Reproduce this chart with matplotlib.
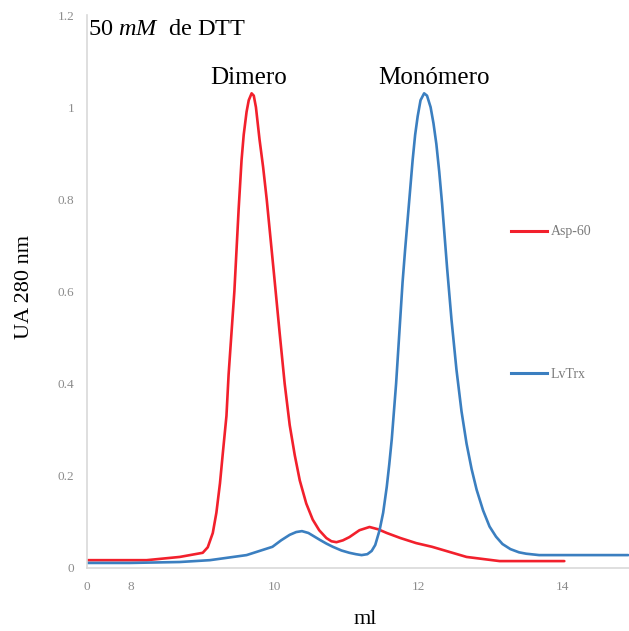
import matplotlib
matplotlib.use("Agg")
import matplotlib.pyplot as plt
from matplotlib.lines import Line2D

plt.rcParams["mathtext.fontset"] = "custom"
plt.rcParams["mathtext.rm"] = "Liberation Serif"
plt.rcParams["mathtext.it"] = "Liberation Serif:italic"

# elution volume (ml) / absorbance
asp_x = [7.36, 8.22, 8.68, 9.0, 9.07, 9.14, 9.19, 9.24, 9.28, 9.33, 9.36, 9.40, 9.44,
         9.47, 9.50, 9.54, 9.57, 9.61, 9.64, 9.68, 9.71, 9.74, 9.765, 9.79, 9.84, 9.89,
         9.94, 9.99, 10.03, 10.07, 10.14, 10.21, 10.28, 10.35, 10.44, 10.53, 10.62,
         10.72, 10.79, 10.86, 10.95, 11.04, 11.18, 11.32, 11.44, 11.56, 11.75, 11.97,
         12.19, 12.67, 13.13, 14.03]
asp_y = [0.017, 0.017, 0.024, 0.033, 0.045, 0.076, 0.12, 0.184, 0.25, 0.33, 0.42, 0.51, 0.60,
         0.69, 0.78, 0.885, 0.94, 0.99, 1.015, 1.03, 1.025, 1.0, 0.965, 0.93, 0.87, 0.80,
         0.72, 0.64, 0.575, 0.51, 0.40, 0.31, 0.245, 0.19, 0.14, 0.105, 0.082,
         0.065, 0.058, 0.056, 0.06, 0.067, 0.082, 0.089, 0.084, 0.076, 0.065, 0.054,
         0.046, 0.024, 0.015, 0.015]

trx_x = [7.36, 7.99, 8.68, 9.10, 9.61, 9.97, 10.09, 10.21, 10.30, 10.38, 10.47, 10.63,
         10.72, 10.81, 10.93, 11.04, 11.13, 11.21, 11.29, 11.35, 11.40, 11.46, 11.51,
         11.56, 11.595, 11.63, 11.66, 11.69, 11.735, 11.78, 11.815, 11.85, 11.885, 11.92,
         11.955, 11.99, 12.03, 12.08, 12.12, 12.17, 12.21, 12.25, 12.29, 12.33, 12.365,
         12.40, 12.46, 12.53, 12.60, 12.67, 12.74, 12.81, 12.90, 12.99, 13.08, 13.17,
         13.28, 13.40, 13.5, 13.68, 14.51, 14.92]
trx_y = [0.011, 0.011, 0.013, 0.017, 0.028, 0.046, 0.06, 0.072, 0.078, 0.080, 0.076, 0.061,
         0.053, 0.046, 0.038, 0.033, 0.030, 0.028, 0.030, 0.037, 0.05, 0.082, 0.12,
         0.176, 0.225, 0.28, 0.34, 0.40, 0.51, 0.62, 0.69, 0.755, 0.82, 0.885,
         0.94, 0.98, 1.015, 1.03, 1.025, 1.0, 0.965, 0.92, 0.86, 0.79, 0.72,
         0.65, 0.54, 0.43, 0.34, 0.27, 0.215, 0.17, 0.125, 0.09, 0.068, 0.052,
         0.041, 0.034, 0.031, 0.028, 0.028, 0.028]

xticks = [7.39, 8, 10, 12, 14]
xticklabels = ["0", "8", "10", "12", "14"]
yticks = [0, 0.2, 0.4, 0.6, 0.8, 1.0, 1.2]
yticklabels = ["0", "0.2", "0.4", "0.6", "0.8", "1", "1.2"]

red = "#f2202c"
blue = "#3b7fc0"
grey = "#8c8c8c"
serif = "Liberation Serif"

fig = plt.figure(figsize=(6.29, 6.31), dpi=100)
ax = fig.add_axes([87 / 629, 63 / 631, 542 / 629, 553 / 631])

ax.plot(asp_x, asp_y, color=red, lw=1.9, solid_capstyle="round", solid_joinstyle="round")
ax.plot(trx_x, trx_y, color=blue, lw=1.9, solid_capstyle="round", solid_joinstyle="round")

ax.set_xlim(7.39, 14.93)
ax.set_ylim(0, 1.2)
ax.set_xticks(xticks)
ax.set_xticklabels(xticklabels)
ax.set_yticks(yticks)
ax.set_yticklabels(yticklabels)
ax.tick_params(length=0, labelsize=9.5, labelcolor=grey, pad=9)
for lbl in ax.get_xticklabels() + ax.get_yticklabels():
    lbl.set_family(serif)

for side in ("top", "right"):
    ax.spines[side].set_visible(False)
for side in ("left", "bottom"):
    ax.spines[side].set_color("#d9d9d9")
    ax.spines[side].set_linewidth(1.2)

ax.text(7.41, 1.168, "50 $\\mathit{mM}$  de DTT", family=serif, fontsize=17.5,
        va="center", ha="left")
ax.text(9.64, 1.063, "Dimero", family=serif, fontsize=18, ha="center", va="center")
ax.text(12.22, 1.063, "Monómero", family=serif, fontsize=18, ha="center", va="center")

fig.text(25 / 629, 1 - 287 / 631, "UA 280 nm", family=serif, fontsize=16,
         rotation=90, ha="center", va="center")
fig.text(365 / 629, 1 - 620 / 631, "ml", family=serif, fontsize=16,
         ha="center", va="center")

# two separate legend entries, as in the original
leg_kw = dict(frameon=False, handlelength=2.6, handletextpad=0.3, borderaxespad=0,
              prop={"family": serif, "size": 10}, labelcolor="#7a7a7a", loc="center left")
leg1 = ax.legend([Line2D([], [], color=red, lw=2.2)], ["Asp-60"],
                 bbox_to_anchor=((505 - 87) / 542, 1 - (232 - 15) / 553), **leg_kw)
ax.add_artist(leg1)
ax.legend([Line2D([], [], color=blue, lw=2.2)], ["LvTrx"],
          bbox_to_anchor=((505 - 87) / 542, 1 - (374 - 15) / 553), **leg_kw)

fig.savefig("out.png", dpi=100)
